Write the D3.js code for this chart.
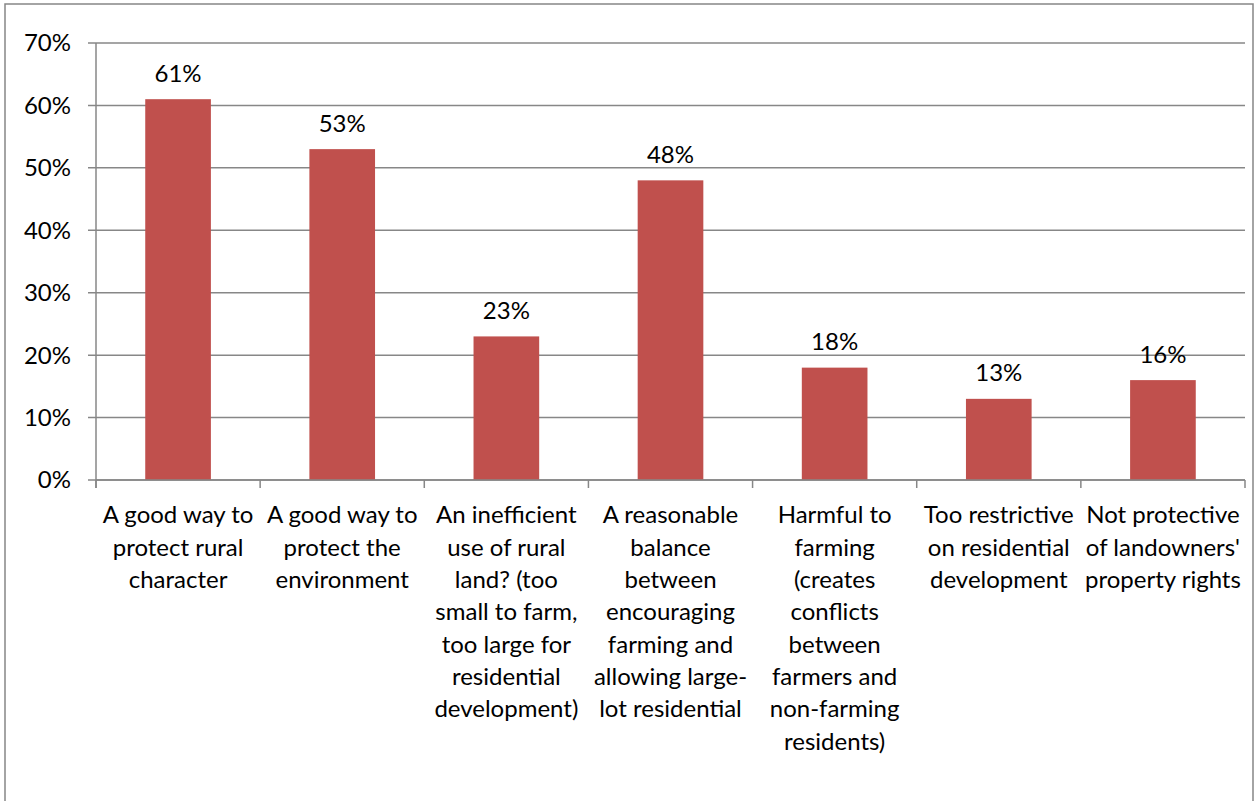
<!DOCTYPE html>
<html><head><meta charset="utf-8">
<script src="https://cdn.jsdelivr.net/npm/d3@7"></script>
<style>html,body{margin:0;padding:0;background:#fff;}svg{display:block;}</style>
</head><body>
<svg id="c" width="1256" height="801"></svg>
<script>
const categories = [
  ["A good way to","protect rural","character"],
  ["A good way to","protect the","environment"],
  ["An inefficient","use of rural","land? (too","small to farm,","too large for","residential","development)"],
  ["A reasonable","balance","between","encouraging","farming and","allowing large-","lot residential"],
  ["Harmful to","farming","(creates","conflicts","between","farmers and","non-farming","residents)"],
  ["Too restrictive","on residential","development"],
  ["Not protective","of landowners'","property rights"]
];
const values = [61, 53, 23, 48, 18, 13, 16];
const yTicks = [0, 10, 20, 30, 40, 50, 60, 70];

(function(){
const FONT = "Lato, 'Open Sans', sans-serif";
const svg = d3.select("#c");
svg.append("rect").attr("x",5).attr("y",4).attr("width",1248).attr("height",820)
  .attr("fill","#fff").attr("stroke","#868686").attr("stroke-width",1.5);

const pL = 96, pR = 1245, pT = 43, pB = 480;
const x = d3.scaleBand().domain(d3.range(categories.length)).range([pL, pR]).paddingInner(0.6).paddingOuter(0.3);
const xb = d3.scaleBand().domain(d3.range(categories.length)).range([pL, pR]);
const y = d3.scaleLinear().domain([0, 70]).range([pB, pT]);

const probe = svg.append("text").attr("font-family",FONT).attr("font-size",100).text("A good way to");
const w = probe.node().getComputedTextLength();
probe.remove();
const fs = Math.min(24, 100*155/w);

svg.append("g").selectAll("line").data(yTicks).join("line")
  .attr("x1", pL-8).attr("x2", pR).attr("y1", d=>y(d)).attr("y2", d=>y(d))
  .attr("stroke","#878787").attr("stroke-width",1.5);

svg.append("g").selectAll("text").data(yTicks).join("text")
  .attr("x", 71).attr("y", d=>y(d)).attr("dy","0.35em").attr("text-anchor","end")
  .attr("font-family",FONT).attr("font-size",fs).attr("fill","#000").text(d=>d+"%");

svg.append("g").selectAll("rect").data(values).join("rect")
  .attr("x",(d,i)=>x(i)).attr("width",x.bandwidth())
  .attr("y",d=>y(d)).attr("height",d=>pB-y(d)).attr("fill","#C0504D");

svg.append("g").selectAll("text").data(values).join("text")
  .attr("x",(d,i)=>x(i)+x.bandwidth()/2).attr("y",d=>y(d)-26).attr("dy","0.35em")
  .attr("text-anchor","middle").attr("font-family",FONT).attr("font-size",fs).attr("fill","#000")
  .text(d=>d+"%");

svg.append("line").attr("x1",pL).attr("x2",pL).attr("y1",pT).attr("y2",pB+8)
  .attr("stroke","#878787").attr("stroke-width",1.5);
svg.append("line").attr("x1",pL).attr("x2",pR).attr("y1",pB).attr("y2",pB)
  .attr("stroke","#878787").attr("stroke-width",1.5);
const bounds = d3.range(categories.length+1).map(i => i<categories.length ? xb(i) : pR);
svg.append("g").selectAll("line").data(bounds).join("line")
  .attr("x1",d=>d).attr("x2",d=>d).attr("y1",pB).attr("y2",pB+8)
  .attr("stroke","#878787").attr("stroke-width",1.5);

const g = svg.append("g");
categories.forEach((lines,i)=>{
  const t = g.append("text").attr("text-anchor","middle").attr("font-family",FONT)
    .attr("font-size",fs).attr("fill","#000");
  lines.forEach((ln,j)=>{
    t.append("tspan").attr("x", xb(i)+xb.bandwidth()/2).attr("y", 515 + j*32.3).attr("dy","0.35em").text(ln);
  });
});
})();
</script>
</body></html>
